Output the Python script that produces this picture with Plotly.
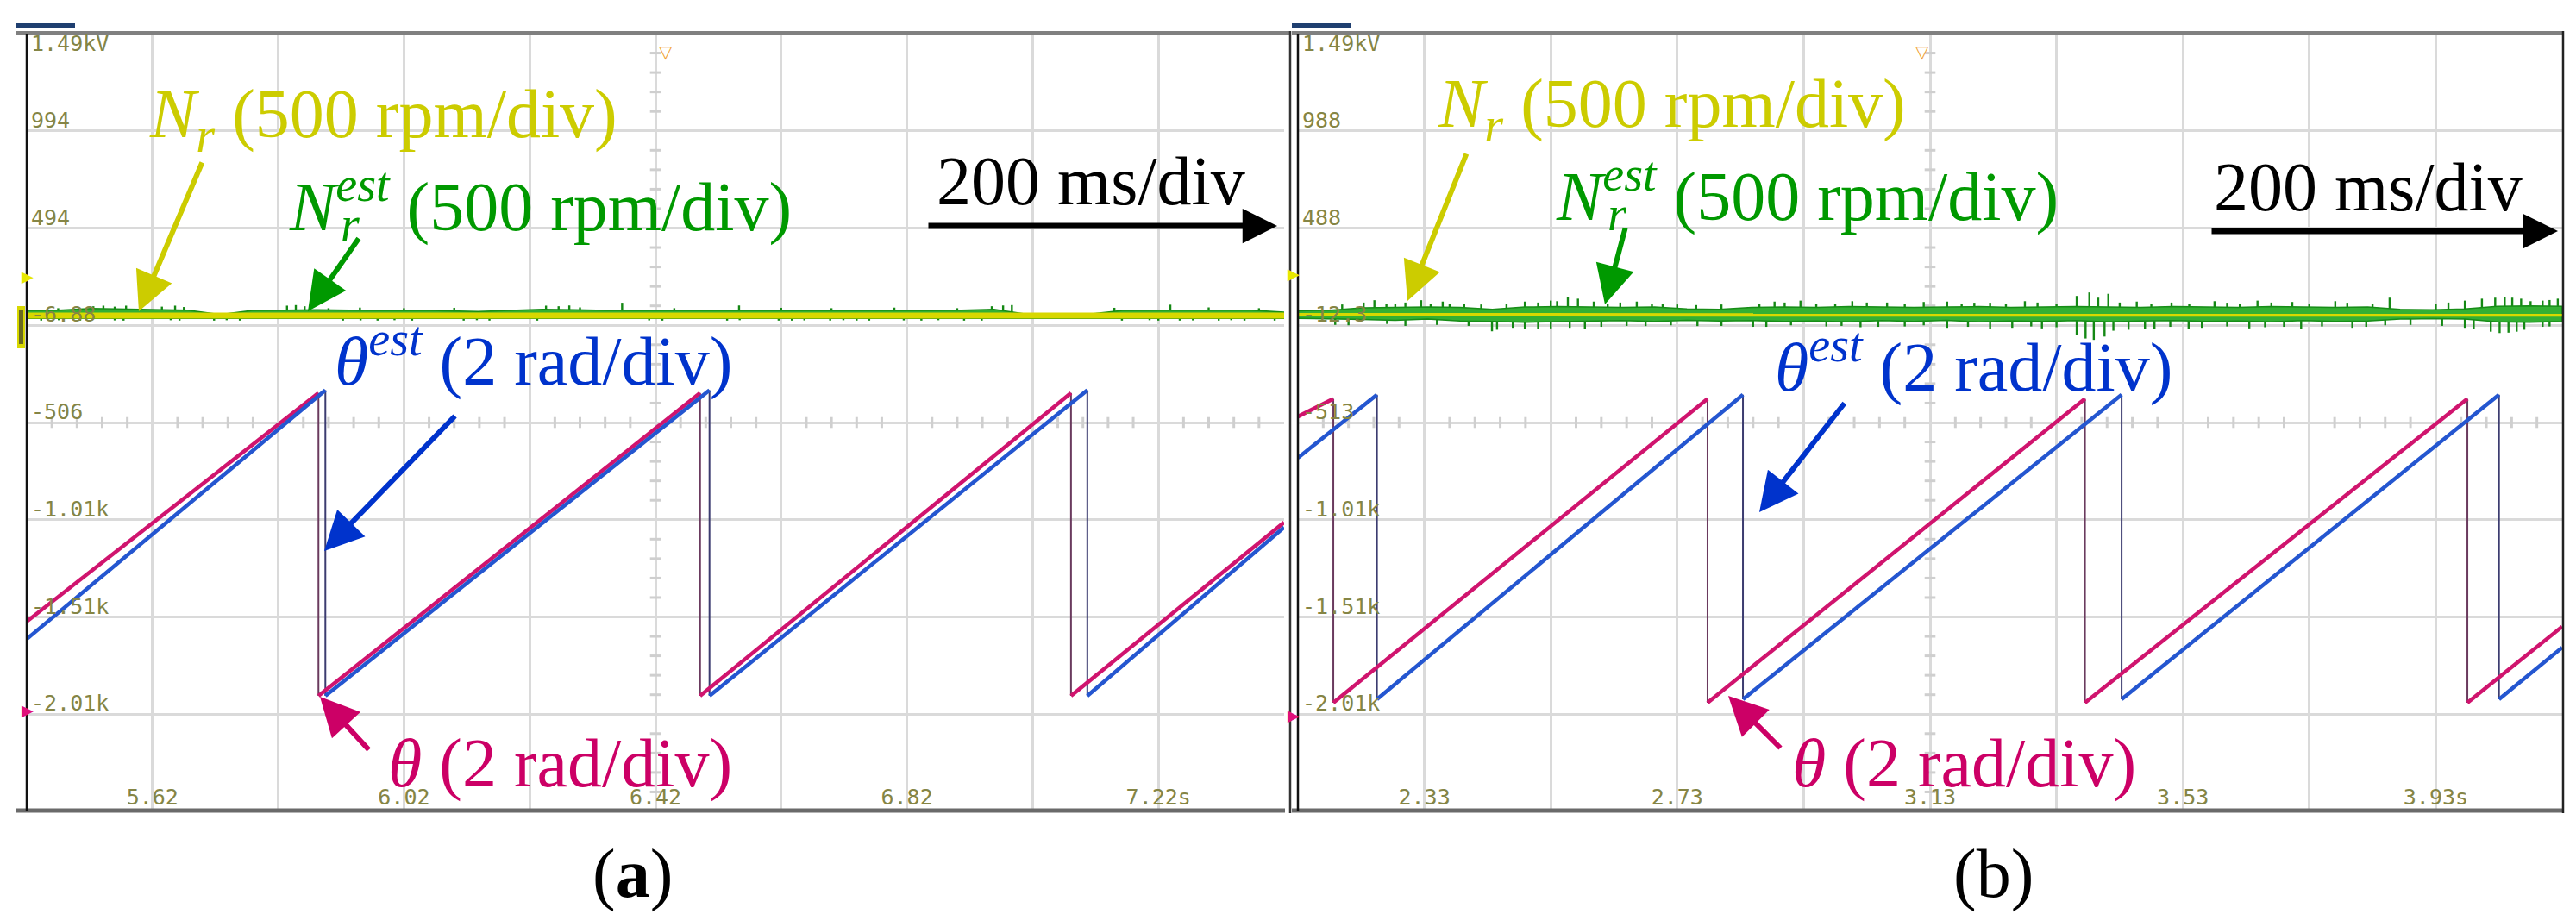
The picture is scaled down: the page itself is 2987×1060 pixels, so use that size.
import plotly.graph_objects as go
import numpy as np

W, H = 2987, 1060

# ---------------- data ----------------
# panel (a)
a_x_range = [5.42, 7.42]
a_x_grid = [5.42, 5.62, 5.82, 6.02, 6.22, 6.42, 6.62, 6.82, 7.02, 7.22, 7.42]
a_x_text = ["", "5.62", "", "6.02", "", "6.42", "", "6.82", "", "7.22s", ""]
a_y_grid = [1494, 994, 494, -6, -506, -1006, -1506, -2006, -2506]
a_y_text = ["1.49kV", "994", "494", "-6.88", "-506", "-1.01k", "-1.51k", "-2.01k"]

a_nr_t = [5.42, 5.92, 6.42, 6.92, 7.42]
a_nr = [44, 43, 44, 43, 44]

# estimated speed: core band (upper / lower edge) + individual noise spikes
a_core_up = [70, 72, 80, 78, 74, 72, 50, 70, 72, 74,
             72, 70, 72, 70, 65, 70, 76, 74, 70, 72,
             70, 72, 70, 72, 70, 72, 70, 72, 70, 72,
             76, 52, 50, 52, 70, 72, 72, 70, 72, 62]
a_core_lo = [30, 30, 30, 30, 30, 30, 30, 30, 30, 30,
             30, 30, 30, 30, 30, 30, 30, 30, 30, 30,
             30, 30, 30, 30, 30, 30, 30, 30, 30, 30,
             30, 30, 30, 30, 30, 30, 30, 30, 30, 30]
a_spk_up_t = [5.526, 5.542, 5.560, 5.578, 5.635, 5.656, 5.670, 5.834, 5.848, 5.862,
              6.246, 6.266, 6.283, 6.367, 6.553, 6.955, 6.973, 6.987, 7.239,
              5.47, 5.60, 5.90, 5.95, 6.02, 6.10, 6.30, 6.45, 6.62, 6.70,
              6.80, 6.90, 7.15, 7.30, 7.38]
a_spk_up = [92, 95, 90, 95, 90, 95, 88, 95, 98, 92,
            95, 92, 96, 110, 96, 92, 96, 98, 100,
            82, 84, 82, 85, 82, 84, 86, 82, 84, 82,
            85, 82, 84, 86, 82]
a_spk_dn_t = [5.443, 5.471, 5.505, 5.560, 5.574, 5.649, 5.663, 5.718, 5.738, 5.759,
              5.923, 5.951, 5.978, 6.005, 6.033, 6.115, 6.136, 6.156, 6.232, 6.410,
              6.431, 6.534, 6.554, 6.616, 6.637, 6.657, 6.698, 6.719, 6.740, 6.760,
              6.815, 6.843, 6.870, 6.911, 6.939, 7.162, 7.206, 7.220, 7.254, 7.275,
              7.316, 7.336, 7.357, 7.405]
a_spk_dn = [18, 20, 18, 19, 18, 20, 18, 18, 20, 18,
            18, 19, 18, 20, 18, 18, 20, 18, 18, 19,
            18, 18, 20, 18, 18, 19, 18, 20, 18, 18,
            19, 18, 20, 18, 18, 18, 20, 18, 18, 19,
            18, 20, 18, 18]

a_theta_t = [5.42, 5.884, 5.884, 6.491, 6.491, 7.081, 7.081, 7.42]
a_theta = [1.53, 6.23, 0.0, 6.23, 0.0, 6.23, 0.0, 3.57]
a_theta_est_t = [5.42, 5.895, 5.895, 6.506, 6.506, 7.107, 7.107, 7.42]
a_theta_est = [1.17, 6.29, 0.0, 6.29, 0.0, 6.29, 0.0, 3.47]

# panel (b)
b_x_range = [2.13, 4.13]
b_x_grid = [2.13, 2.33, 2.53, 2.73, 2.93, 3.13, 3.33, 3.53, 3.73, 3.93, 4.13]
b_x_text = ["", "2.33", "", "2.73", "", "3.13", "", "3.53", "", "3.93s", ""]
b_y_grid = [1488, 988, 488, -12, -512, -1012, -1512, -2012, -2512]
b_y_text = ["1.49kV", "988", "488", "-12.3", "-513", "-1.01k", "-1.51k", "-2.01k"]

b_nr_t = [2.13, 2.63, 3.13, 3.63, 4.13]
b_nr = [42, 41, 42, 42, 41]

b_core_up = [62, 66, 78, 80, 82, 80, 70, 82, 84, 82,
             80, 82, 72, 70, 80, 82, 80, 84, 82, 80,
             82, 84, 80, 82, 84, 82, 80, 84, 82, 80,
             84, 82, 80, 82, 70, 68, 72, 86, 88, 86]
b_core_lo = [24, 20, 18, 14, 20, 10, 8, 4, 6, 10,
             12, 8, 14, 10, 12, 8, 10, 6, 12, 8,
             14, 6, 10, 8, 12, 6, 10, 12, 8, 10,
             6, 12, 8, 10, 20, 22, 20, 6, 4, 8]
b_spk_up_t = [2.234, 2.251, 2.284, 2.325, 2.359, 2.393, 2.489, 2.530, 2.557, 2.573,
              2.598, 2.666, 2.707, 2.884, 2.925, 3.007, 3.062, 3.157, 3.225, 3.280,
              3.362, 3.382, 3.396, 3.412, 3.457, 3.512, 3.580, 3.648, 3.703, 3.771,
              3.857, 3.976, 4.003, 4.024, 4.039, 4.051, 4.065, 4.099, 4.123,
              2.20, 2.27, 2.30, 2.34, 2.37, 2.42, 2.46, 2.51, 2.54, 2.62,
              2.64, 2.69, 2.73, 2.76, 2.80, 2.86, 2.90, 2.95, 2.98, 3.03,
              3.09, 3.12, 3.18, 3.20, 3.25, 3.30, 3.33, 3.43, 3.48, 3.54,
              3.60, 3.62, 3.67, 3.73, 3.79, 3.83, 3.93, 3.95, 4.08, 4.11]
b_spk_up = [105, 117, 100, 117, 110, 100, 110, 115, 135, 125,
            110, 110, 100, 110, 115, 112, 105, 110, 104, 112,
            139, 157, 130, 150, 110, 105, 112, 115, 108, 112,
            130, 115, 125, 130, 135, 130, 125, 115, 125,
            95, 98, 105, 100, 98, 95, 100, 105, 112, 100,
            105, 98, 95, 92, 95, 100, 105, 100, 98, 105,
            100, 108, 100, 104, 98, 105, 100, 105, 98, 100,
            104, 98, 105, 100, 104, 98, 100, 105, 112, 118]
b_spk_dn_t = [2.189, 2.271, 2.437, 2.445, 2.489, 2.530, 2.584, 2.680, 2.762, 2.871,
              2.966, 3.048, 3.157, 3.225, 3.307, 3.362, 3.376, 3.389, 3.406, 3.444,
              3.485, 3.539, 3.635, 3.717, 3.798, 3.976, 4.017, 4.031, 4.045, 4.058,
              4.099,
              2.21, 2.30, 2.35, 2.40, 2.47, 2.51, 2.56, 2.61, 2.65, 2.72,
              2.80, 2.85, 2.91, 2.99, 3.02, 3.09, 3.12, 3.19, 3.26, 3.29,
              3.33, 3.42, 3.47, 3.51, 3.56, 3.60, 3.66, 3.69, 3.75, 3.82,
              3.85, 3.89, 3.94, 3.99, 4.07, 4.11]
b_spk_dn = [-10, -5, -43, -35, -30, -28, -30, -16, -16, -20,
            -18, -20, -25, -30, -28, -60, -80, -87, -70, -35,
            -30, -30, -28, -30, -25, -25, -45, -52, -50, -45,
            -20,
            -12, -15, -10, -15, -25, -30, -25, -20, -15, -12,
            -15, -20, -12, -15, -22, -18, -12, -20, -25, -18,
            -22, -40, -30, -20, -25, -18, -22, -20, -18, -20,
            -12, -10, -15, -30, -35, -18]

b_theta_t = [2.13, 2.186, 2.186, 2.778, 2.778, 3.375, 3.375, 3.980, 3.980, 4.13]
b_theta = [5.85, 6.215, -0.035, 6.215, -0.035, 6.215, -0.035, 6.215, -0.035, 1.53]
b_theta_est_t = [2.13, 2.255, 2.255, 2.834, 2.834, 3.433, 3.433, 4.030, 4.030, 4.13]
b_theta_est = [5.0, 6.30, 0.035, 6.30, 0.035, 6.30, 0.035, 6.30, 0.035, 1.10]

# scope scaling
UNITS_PER_DIV = 500.0
RAD_PER_DIV = 2.0
a_theta_zero = -1912.0   # channel-1 units where theta = 0 (panel a)
b_theta_zero = -1944.0   # (panel b)

# ---------------- styling constants ----------------
C_YEL = "#d8d800"
C_YEL_TXT = "#cccc00"
C_GRN_CORE = "#33b033"
C_GRN_EDGE = "#178d17"
C_GRN_SPK = "#148814"
C_GRN_TXT = "#009900"
C_BLU = "#2456d0"
C_BLU_TXT = "#0033cc"
C_MAG = "#d0146e"
C_MAG_TXT = "#cc0066"
C_LBL = "#858545"
GRID = "#dadada"
SERIF = "Liberation Serif"
MONO = "DejaVu Sans Mono"


def px(x):
    return x / W


def py(y):
    return 1 - y / H


# panel pixel boxes (left, right, top, bottom)
A_BOX = (23, 1481, 31, 933)
B_BOX = (1497, 2963, 31, 933)

fig = go.Figure()


def split_saw(t, v):
    """ramps (even->odd pairs) and vertical drops (odd->even pairs)"""
    rx, ry, dx, dy = [], [], [], []
    for i in range(0, len(t) - 1, 2):
        rx += [t[i], t[i + 1], None]
        ry += [v[i], v[i + 1], None]
    for i in range(1, len(t) - 1, 2):
        dx += [t[i], t[i + 1], None]
        dy += [v[i], v[i + 1], None]
    return rx, ry, dx, dy


def spikes(ts, vs, base):
    xs, ys = [], []
    for t, v in zip(ts, vs):
        xs += [t, t, None]
        ys += [base, v, None]
    return xs, ys


def add_panel(xref, yref, yth, x_range, x_grid, y_grid, nr_t, nr, nr_w, core_up, core_lo,
              su_t, su, sd_t, sd, th_t, th, the_t, the):
    # centre crosshair ticks
    xc = x_grid[5]
    yc = y_grid[4]
    step_y = UNITS_PER_DIV / 5
    ys = [y_grid[-1] + k * step_y for k in range(41) if k % 5 != 0]
    step_x = (x_grid[1] - x_grid[0]) / 5
    xs = [x_grid[0] + k * step_x for k in range(51) if k % 5 != 0]
    fig.add_trace(go.Scatter(x=[xc] * len(ys), y=ys, mode="markers", xaxis=xref, yaxis=yref,
                             marker=dict(symbol="line-ew", size=9, line=dict(width=3, color="#cfcfcf")),
                             hoverinfo="skip"))
    fig.add_trace(go.Scatter(x=xs, y=[yc] * len(xs), mode="markers", xaxis=xref, yaxis=yref,
                             marker=dict(symbol="line-ns", size=9, line=dict(width=3, color="#cfcfcf")),
                             hoverinfo="skip"))
    # estimated speed: spikes then core band
    base = nr[0]
    sx, sy = spikes(su_t + sd_t, su + sd, base)
    fig.add_trace(go.Scatter(x=sx, y=sy, mode="lines", xaxis=xref, yaxis=yref,
                             line=dict(color=C_GRN_SPK, width=2.4), hoverinfo="skip"))
    n = len(core_up)
    ts = list(np.linspace(x_range[0], x_range[1], n))
    fig.add_trace(go.Scatter(x=ts + ts[::-1], y=list(core_up) + list(core_lo)[::-1], fill="toself",
                             mode="lines", xaxis=xref, yaxis=yref, fillcolor=C_GRN_CORE,
                             line=dict(color=C_GRN_EDGE, width=1.5), hoverinfo="skip"))
    # measured speed
    fig.add_trace(go.Scatter(x=nr_t, y=nr, mode="lines", xaxis=xref, yaxis=yref,
                             line=dict(color=C_YEL, width=nr_w), hoverinfo="skip"))
    # theta traces
    for t, v, dcol in ((th_t, th, "#6a3a5e"), (the_t, the, "#3c3c70")):
        rx, ry, dx, dy = split_saw(t, v)
        fig.add_trace(go.Scatter(x=dx, y=dy, mode="lines", xaxis=xref, yaxis=yth,
                                 line=dict(color=dcol, width=2), hoverinfo="skip"))
    for t, v, col in ((th_t, th, C_MAG), (the_t, the, C_BLU)):
        rx, ry, dx, dy = split_saw(t, v)
        fig.add_trace(go.Scatter(x=rx, y=ry, mode="lines", xaxis=xref, yaxis=yth,
                                 line=dict(color=col, width=4.5), hoverinfo="skip"))


add_panel("x", "y", "y3", a_x_range, a_x_grid, a_y_grid, a_nr_t, a_nr, 7, a_core_up, a_core_lo,
          a_spk_up_t, a_spk_up, a_spk_dn_t, a_spk_dn, a_theta_t, a_theta, a_theta_est_t, a_theta_est)
add_panel("x2", "y2", "y4", b_x_range, b_x_grid, b_y_grid, b_nr_t, b_nr, 4, b_core_up, b_core_lo,
          b_spk_up_t, b_spk_up, b_spk_dn_t, b_spk_dn, b_theta_t, b_theta, b_theta_est_t, b_theta_est)


def xaxis_cfg(box, rng, grid, text, anchor):
    return dict(domain=[px(box[0]), px(box[1])], range=rng, tickvals=grid, ticktext=text,
                ticklabelposition="inside", ticks="", showgrid=True, gridcolor=GRID, gridwidth=3,
                zeroline=False, showline=False, anchor=anchor,
                tickfont=dict(family=MONO, size=25, color=C_LBL))


def yaxis_cfg(box, grid, anchor):
    return dict(domain=[py(box[3]), py(box[2])], range=[grid[-1], grid[0]], tickvals=grid,
                showticklabels=False, ticks="", showgrid=True, gridcolor=GRID, gridwidth=3,
                zeroline=False, showline=False, anchor=anchor)


def theta_range(grid, zero):
    return [(grid[-1] - zero) / UNITS_PER_DIV * RAD_PER_DIV, (grid[0] - zero) / UNITS_PER_DIV * RAD_PER_DIV]


fig.update_layout(
    width=W, height=H, margin=dict(l=0, r=0, t=0, b=0),
    paper_bgcolor="white", plot_bgcolor="white", showlegend=False,
    xaxis=xaxis_cfg(A_BOX, a_x_range, a_x_grid, a_x_text, "y"),
    xaxis2=xaxis_cfg(B_BOX, b_x_range, b_x_grid, b_x_text, "y2"),
    yaxis=yaxis_cfg(A_BOX, a_y_grid, "x"),
    yaxis2=yaxis_cfg(B_BOX, b_y_grid, "x2"),
    yaxis3=dict(overlaying="y", anchor="x", range=theta_range(a_y_grid, a_theta_zero), visible=False),
    yaxis4=dict(overlaying="y2", anchor="x2", range=theta_range(b_y_grid, b_theta_zero), visible=False),
)

# ---------------- scope frame decorations ----------------
shapes = []


def hline(x0, x1, y, w, c):
    shapes.append(dict(type="line", xref="paper", yref="paper", x0=px(x0), x1=px(x1),
                       y0=py(y), y1=py(y), line=dict(color=c, width=w)))


def vline(x, y0, y1, w, c):
    shapes.append(dict(type="line", xref="paper", yref="paper", x0=px(x), x1=px(x),
                       y0=py(y0), y1=py(y1), line=dict(color=c, width=w)))


def rect(x0, x1, y0, y1, c):
    shapes.append(dict(type="rect", xref="paper", yref="paper", x0=px(x0), x1=px(x1),
                       y0=py(y1), y1=py(y0), fillcolor=c, line=dict(width=0)))


for (l, r, t, b), fl, fr in ((A_BOX, 11, 1489), (B_BOX, 1490, 2965)):
    hline(fl, fr, 30.5, 5, "#808080")
    hline(fl, r + 1, 932, 5, "#6a6a6a")
    vline(l, t, b, 2.5, "#111111")
    rect(fl, fl + 68, 19, 25, "#1f3f70")
vline(1488, 28, 935, 2.5, "#333333")
vline(2964, 28, 935, 2.5, "#222222")

annotations = []

# y tick labels of the scope (just above each graticule line)
for box, grid, labels, yref in ((A_BOX, a_y_grid, a_y_text, "y"), (B_BOX, b_y_grid, b_y_text, "y2")):
    for k, lab in enumerate(labels):
        annotations.append(dict(text=lab, xref="paper", yref=yref, x=px(box[0] + 3), y=grid[k],
                                xanchor="left", yanchor="top" if k == 0 else "bottom",
                                yshift=5 if k == 0 else -4, showarrow=False,
                                font=dict(family=MONO, size=25, color=C_LBL)))

# trigger markers
for xc in (754, 2231):
    annotations.append(dict(text="▽", xref="paper", yref="paper", x=px(xc), y=py(38),
                            showarrow=False, font=dict(family="DejaVu Sans", size=20, color="#f0a030")))
# channel markers on the panel edges
for xm, ym, c in ((15, 300, "#e8e800"), (15, 828, "#e0107a"), (1492, 297, "#e8e800"),
                  (1492, 834, "#e0107a")):
    annotations.append(dict(text="▶", xref="paper", yref="paper", x=px(xm), y=py(ym),
                            showarrow=False, font=dict(family="DejaVu Sans", size=18, color=c)))
rect(12, 21, 347, 396, "#d8d800")
rect(14, 19, 352, 391, "#6a6a20")


def text(s, x, y, color, size=80, xanchor="left"):
    annotations.append(dict(text=s, xref="paper", yref="paper", x=px(x), y=py(y),
                            xanchor=xanchor, yanchor="middle", showarrow=False,
                            font=dict(family=SERIF, size=size, color=color)))


def arrow(tail, tip, color, width=5, size=1.5):
    annotations.append(dict(text="", xref="paper", yref="paper", x=px(tip[0]), y=py(tip[1]),
                            ax=tail[0] - tip[0], ay=tail[1] - tip[1], showarrow=True,
                            arrowhead=2, arrowsize=size, arrowwidth=width, arrowcolor=color,
                            standoff=0, startstandoff=0))


LBL_NR = "<i>N<sub>r</sub></i> (500 rpm/div)"
LBL_NREST = "<i>N<sup>est</sup></i> (500 rpm/div)"
LBL_THEST = "<i>θ<sup>est</sup></i> (2 rad/div)"
LBL_TH = "<i>θ</i> (2 rad/div)"
LBL_TIME = "200 ms/div"

# panel (a) texts
text(LBL_NR, 163, 130, C_YEL_TXT)
text(LBL_NREST, 325, 226, C_GRN_TXT)
text("<i>r</i>", 385, 252, C_GRN_TXT, size=56)
text(LBL_TIME, 1076, 202, "black")
text(LBL_THEST, 378, 405, C_BLU_TXT)
text(LBL_TH, 440, 877, C_MAG_TXT)
text("(<b>a</b>)", 725, 1005, "black", xanchor="center")
arrow((227, 179), (153, 353), C_YEL_TXT, width=6)
arrow((409, 267), (349, 353), C_GRN_TXT, width=6)
arrow((1067, 254), (1473, 254), "black", width=7, size=1.15)
arrow((521, 473), (368, 631), C_BLU_TXT, width=6)
arrow((421, 863), (363, 800), C_MAG_TXT, width=6)

# panel (b) texts
text(LBL_NR, 1657, 118, C_YEL_TXT)
text(LBL_NREST, 1794, 214, C_GRN_TXT)
text("<i>r</i>", 1854, 240, C_GRN_TXT, size=56)
text(LBL_TIME, 2557, 209, "black")
text(LBL_THEST, 2048, 412, C_BLU_TXT)
text(LBL_TH, 2068, 877, C_MAG_TXT)
text("(b)", 2303, 1005, "black", xanchor="center")
arrow((1693, 169), (1624, 341), C_YEL_TXT, width=6)
arrow((1877, 255), (1853, 345), C_GRN_TXT, width=6)
arrow((2555, 260), (2958, 260), "black", width=7, size=1.15)
arrow((2132, 458), (2032, 586), C_BLU_TXT, width=6)
arrow((2058, 861), (1996, 799), C_MAG_TXT, width=6)

fig.update_layout(shapes=shapes, annotations=annotations)
fig.write_html("out.html")
